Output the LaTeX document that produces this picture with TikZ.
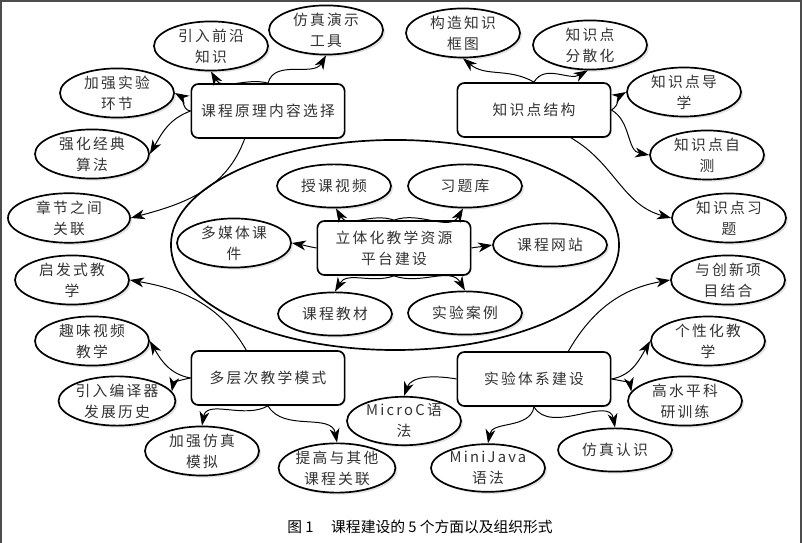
\documentclass[tikz,border=0pt]{standalone}
\usepackage{fontspec}
\newfontfamily\cjk[LetterSpace=15]{Noto Sans CJK SC}
\newfontfamily\capfont{Noto Sans CJK SC}
\usepackage{tikz}
\usetikzlibrary{shapes.geometric,arrows.meta,shadows}

\tikzset{
  leaf/.style={ellipse,draw,line width=1.2pt,fill=white,minimum width=2.85cm,
    minimum height=1.08cm,inner sep=0pt,align=center,text=black!80,
    font=\cjk\fontsize{10.5}{15}\selectfont,
    drop shadow={shadow xshift=1.5pt,shadow yshift=-1.5pt,fill=black!22}},
  hub/.style={rectangle,rounded corners=5pt,draw,line width=1.2pt,fill=white,
    minimum width=3.83cm,minimum height=1.35cm,align=center,text=black!80,
    font=\cjk\fontsize{10.5}{15}\selectfont,
    drop shadow={shadow xshift=1pt,shadow yshift=-1pt,fill=black!15}},
  link/.style={-{Stealth[length=10pt,width=7pt,inset=3pt]},line width=0.7pt}
}

\begin{document}
\begin{tikzpicture}[x=0.025cm,y=0.025cm]
  \useasboundingbox (0,0) rectangle (802,543);
  %frame
  \draw[black!70,line width=1.2pt] (1,0) -- (1,542) -- (801,542) -- (801,0);

  %ring round the resource platform
  \draw[line width=1.2pt] (395,298) ellipse [x radius=5.6cm, y radius=2.625cm];

  %hubs
  \node[hub] (course) at (268,432) {课程原理内容选择};
  \node[hub] (struct) at (534,433) {知识点结构};
  \node[hub] (res) at (394,295) {立体化教学资源\\平台建设};
  \node[hub] (teach) at (268,165) {多层次教学模式};
  \node[hub] (lab) at (534,164) {实验体系建设};

  % course content
  \node[leaf] (lead) at (211,497) {引入前沿\\知识};
  \node[leaf] (demo) at (326,513) {仿真演示\\工具};
  \node[leaf] (exp) at (117,450) {加强实验\\环节};
  \node[leaf] (algo) at (92,389) {强化经典\\算法};
  \node[leaf,minimum width=3.05cm] (chap) at (69,325) {章节之间\\关联};

  % knowledge points
  \node[leaf] (frame) at (463,510) {构造知识\\框图};
  \node[leaf] (scat) at (590,498) {知识点\\分散化};
  \node[leaf] (guide) at (684,451) {知识点导\\学};
  \node[leaf] (test) at (707,388) {知识点自\\测};
  \node[leaf] (exer) at (729,325) {知识点习\\题};

  % resource platform
  \node[leaf] (video) at (334,357) {授课视频};
  \node[leaf] (bank) at (465,357) {习题库};
  \node[leaf] (media) at (234,300) {多媒体课\\件};
  \node[leaf] (site) at (550,298) {课程网站};
  \node[leaf] (book) at (335,229) {课程教材};
  \node[leaf] (case) at (465,230) {实验案例};

  % teaching modes
  \node[leaf] (heur) at (72,263) {启发式教\\学};
  \node[leaf] (fun) at (92,202) {趣味视频\\教学};
  \node[leaf] (hist) at (117,142) {引入编译器\\发展历史};
  \node[leaf] (simu) at (202,92) {加强仿真\\模拟};
  \node[leaf] (rel) at (337,75) {提高与其他\\课程关联};

  % lab system
  \node[leaf] (innov) at (728,263) {与创新项\\目结合};
  \node[leaf] (pers) at (708,202) {个性化教\\学};
  \node[leaf] (sci) at (685,142) {高水平科\\研训练};
  \node[leaf] (micro) at (404,122) {MicroC语\\法};
  \node[leaf] (mini) at (488,75) {MiniJava\\语法};
  \node[leaf] (simk) at (615,93) {仿真认识};

  %links course
  \draw[link] (course.north) to[out=165,in=-60] (lead.south);
  \draw[link] (course.north) to[out=75,in=-120] (demo.south);
  \draw[link] (course.west) to[out=170,in=-30] (exp.east);
  \draw[link] (course.west) to[out=200,in=60] (algo.east);
  \draw[link] (course.230) to[out=-110,in=15] (chap.east);

  %links struct
  \draw[link] (struct.north) to[out=150,in=-40] (frame.south);
  \draw[link] (struct.north) to[out=60,in=-150] (scat.-95);
  \draw[link] (struct.east) to[out=30,in=210] (guide.west);
  \draw[link] (struct.east) to[out=-30,in=170] (test.west);
  \draw[link] (struct.-37) to[out=-30,in=165] (exer.west);

  %links platform
  \draw[link] (res.north) to[out=160,in=-60] (video.-85);
  \draw[link] (res.north) to[out=20,in=-120] (bank.-95);
  \draw[link] (res.west) to[out=170,in=-10] (media.east);
  \draw[link] (res.east) to[out=10,in=190] (site.west);
  \draw[link] (res.south) to[out=200,in=60] (book.north);
  \draw[link] (res.south) to[out=-20,in=120] (case.north);

  %links teaching
  \draw[link] (teach.128) to[out=120,in=-10] (heur.east);
  \draw[link] (teach.west) to[out=170,in=-60] (fun.east);
  \draw[link] (teach.west) to[out=190,in=80] (hist.10);
  \draw[link] (teach.south) to[out=-150,in=80] (simu.north);
  \draw[link] (teach.south) to[out=-60,in=100] (rel.north);

  %links lab
  \draw[link] (lab.39) to[out=60,in=190] (innov.west);
  \draw[link] (lab.east) to[out=10,in=-120] (pers.west);
  \draw[link] (lab.east) to[out=-10,in=100] (sci.170);
  \draw[link] (lab.west) to[out=170,in=70] (micro.north);
  \draw[link] (lab.south) to[out=-100,in=80] (mini.north);
  \draw[link] (lab.south) to[out=-60,in=100] (simk.north);

  \node[font=\capfont\fontsize{10.5}{12}\selectfont] (cap) at (420,16)
    {图 1\hspace{1.2em}课程建设的 5 个方面以及组织形式};
\end{tikzpicture}
\end{document}
